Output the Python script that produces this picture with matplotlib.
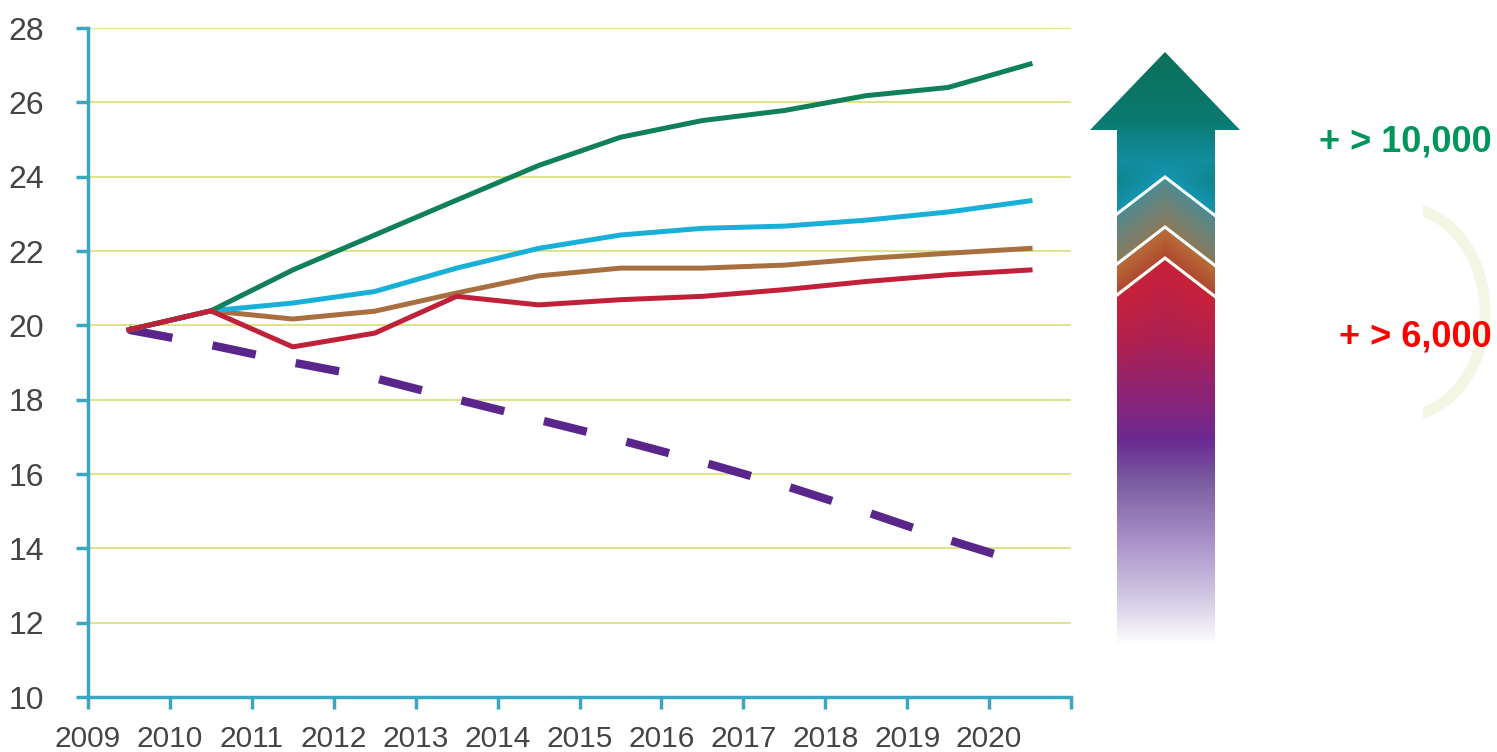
import numpy as np
import matplotlib
matplotlib.use("Agg")
import matplotlib.pyplot as plt
from matplotlib.patches import Polygon, Arc, Rectangle

# data (mid-year points)
years = [2009.5, 2010.5, 2011.5, 2012.5, 2013.5, 2014.5, 2015.5, 2016.5,
         2017.5, 2018.5, 2019.5, 2020.5]
green = [19.88, 20.39, 21.49, 22.43, 23.37, 24.30, 25.06, 25.51, 25.78, 26.18, 26.40, 27.03]
cyan = [19.88, 20.39, 20.60, 20.91, 21.54, 22.07, 22.43, 22.61, 22.67, 22.83, 23.05, 23.35]
brown = [19.88, 20.39, 20.17, 20.38, 20.87, 21.33, 21.54, 21.54, 21.62, 21.80, 21.94, 22.07]
red = [19.88, 20.39, 19.42, 19.79, 20.78, 20.55, 20.69, 20.78, 20.96, 21.18, 21.36, 21.49]
purple = [19.88, 19.47, 19.00, 18.58, 18.01, 17.46, 16.91, 16.32, 15.69, 14.98, 14.23, 13.55]

xticks = list(range(2009, 2022))
xlabels = [str(y) for y in range(2009, 2021)] + [""]
yticks = list(range(10, 29, 2))

label_up = "+ > 10,000"
label_low = "+ > 6,000"

tick_font = ["Liberation Sans", "DejaVu Sans"]
axis_col = "#3aa6bf"

fig = plt.figure(figsize=(14.97, 7.52), dpi=100)
ax = fig.add_axes([88 / 1497, 1 - 697 / 752, (1071 - 88) / 1497, (697 - 28) / 752])

ax.plot(years, purple, color="#5a268c", lw=6, dashes=(5.3, 4.9), solid_capstyle="butt",
        dash_capstyle="butt", zorder=3)
ax.plot(years, brown, color="#a87040", lw=3.6, zorder=4)
ax.plot(years, cyan, color="#18b0d8", lw=3.6, zorder=5)
ax.plot(years, green, color="#108058", lw=3.6, zorder=6)
ax.plot(years, red, color="#c02038", lw=3.6, zorder=7)

ax.set_xlim(2009, 2021)
ax.set_ylim(10, 28)
ax.set_xticks(xticks)
ax.set_xticklabels(xlabels)
ax.set_yticks(yticks)
for s in ["top", "right"]:
    ax.spines[s].set_visible(False)
for s in ["left", "bottom"]:
    ax.spines[s].set_color(axis_col)
    ax.spines[s].set_linewidth(2.5)
ax.grid(axis="y", color="#dde38f", lw=1.5)
ax.set_axisbelow(True)
ax.tick_params(axis="both", color=axis_col, width=2.5, length=8.5, labelcolor="#444444")
ax.tick_params(axis="y", pad=23)
ax.tick_params(axis="x", pad=12)
for lab in ax.get_xticklabels():
    lab.set_family(tick_font)
    lab.set_fontsize(21.5)
for lab in ax.get_yticklabels():
    lab.set_family(tick_font)
    lab.set_fontsize(23)

# overlay in pixel coordinates for the arrow and the labels
ov = fig.add_axes([0, 0, 1, 1])
ov.set_xlim(0, 1497)
ov.set_ylim(752, 0)
ov.axis("off")
ov.patch.set_alpha(0)

# arrow with gradient
x0, x1, y0, y1 = 1085, 1245, 45, 650
xs = np.arange(x0, x1) + 0.5
ys = np.arange(y0, y1) + 0.5
X, Y = np.meshgrid(xs, ys)
w = np.clip((Y - 160) / 20, 0, 1) * np.clip((380 - Y) / 80, 0, 1)
Ye = Y - 0.77 * np.abs(X - 1165) * w
stops = [45, 120, 172, 179.5, 180, 225, 229.5, 230, 256, 260.5, 261, 330, 400, 440, 480, 540, 600, 645]
cols = ["#0c6e58", "#0a7a70", "#1592ad", "#1592ad", "#528a8e", "#8a7a5c", "#8a7a5c", "#b86a38",
        "#b04a30", "#b04a30", "#c8203a", "#b02050", "#8a2478", "#6a2a92", "#7a5aa0", "#a890c8",
        "#d4cce6", "#ffffff"]
rgb = np.array([matplotlib.colors.to_rgb(c) for c in cols])
img = np.dstack([np.interp(Ye, stops, rgb[:, i]) for i in range(3)])
im = ov.imshow(img, extent=(x0, x1, y1, y0), origin="upper", interpolation="bilinear", zorder=2)
ov.set_xlim(0, 1497)
ov.set_ylim(752, 0)
arrow = Polygon([(1090, 130), (1165, 52), (1240, 130), (1215, 130), (1215, 650),
                 (1117, 650), (1117, 130)], closed=True, fc="none", ec="none")
ov.add_patch(arrow)
im.set_clip_path(arrow)
for apex in [177, 227, 258]:
    ov.plot([1117, 1165, 1215], [apex + 0.77 * 48, apex, apex + 0.77 * 50],
            color="white", lw=2.2, zorder=3, solid_joinstyle="miter")

# faint arc at right
arc = Arc((1400, 312), 170, 210, theta1=-80, theta2=80, color="#f3f6e4", lw=8, zorder=1)
ov.add_patch(arc)
clip = Rectangle((1423, 0), 100, 752, transform=ov.transData)
arc.set_clip_path(clip)

ov.text(1492, 142, label_up, color="#00965a", fontsize=26, fontweight="bold",
        family=["Liberation Sans", "DejaVu Sans"], ha="right", va="center", zorder=4)
ov.text(1492, 337, label_low, color="#ff0000", fontsize=26, fontweight="bold",
        family=["Liberation Sans", "DejaVu Sans"], ha="right", va="center", zorder=4)

fig.savefig("out.png", dpi=100)
